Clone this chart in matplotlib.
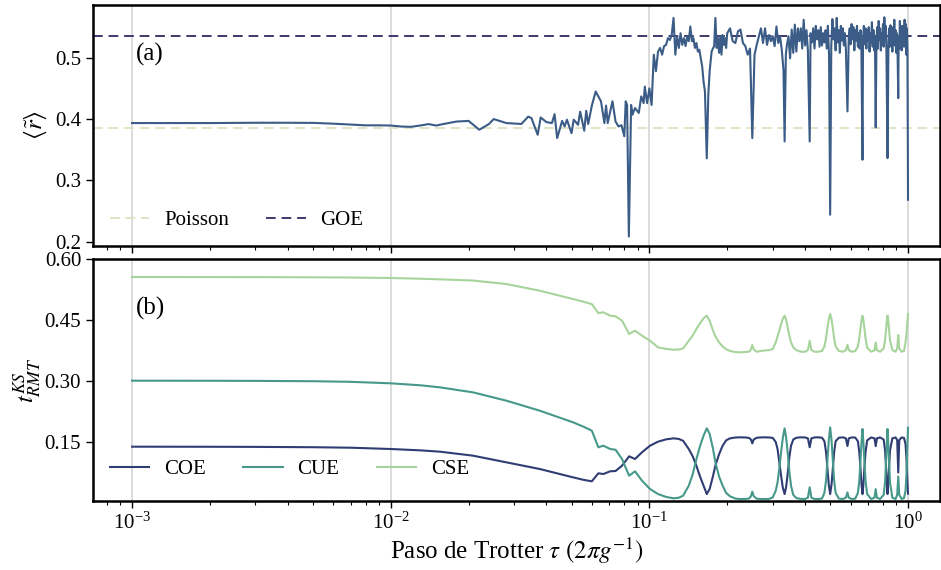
import numpy as np
import matplotlib.pyplot as plt

plt.rcParams['font.family'] = ['Liberation Serif', 'DejaVu Serif']
plt.rcParams['mathtext.fontset'] = 'stix'

# Panel (a): mean ratio of consecutive level spacings vs Trotter step
TAU_R = [
    0.001, 0.002, 0.003, 0.004, 0.005, 0.006, 0.007, 0.008, 0.009, 0.010,
    0.011, 0.012, 0.013, 0.014, 0.015, 0.016, 0.018, 0.020, 0.022, 0.024,
    0.025, 0.028, 0.032, 0.034, 0.035, 0.037, 0.038, 0.040, 0.042, 0.043,
    0.044, 0.046, 0.047, 0.048, 0.050, 0.051, 0.053, 0.054, 0.056, 0.057,
    0.058, 0.060, 0.062, 0.065, 0.067, 0.068, 0.069, 0.072, 0.074, 0.076,
    0.078, 0.080, 0.081, 0.082, 0.0833, 0.085, 0.086, 0.088, 0.091, 0.093,
    0.095, 0.096, 0.098, 0.100, 0.102, 0.104, 0.106, 0.108, 0.110, 0.112,
    0.114, 0.116, 0.118, 0.120, 0.122, 0.124, 0.126, 0.128, 0.130, 0.132,
    0.134, 0.136, 0.138, 0.140, 0.142, 0.144, 0.146, 0.148, 0.150, 0.152,
    0.154, 0.156, 0.158, 0.160, 0.162, 0.164, 0.1667, 0.169, 0.171, 0.174,
    0.176, 0.178, 0.180, 0.182, 0.184, 0.186, 0.188, 0.190, 0.192, 0.194,
    0.196, 0.198, 0.200, 0.205, 0.210, 0.215, 0.220, 0.225, 0.230, 0.235,
    0.240, 0.245, 0.250, 0.255, 0.260, 0.265, 0.270, 0.275, 0.280, 0.285,
    0.290, 0.295, 0.300, 0.305, 0.310, 0.315, 0.320, 0.325, 0.330, 0.3333,
    0.337, 0.340, 0.345, 0.350, 0.355, 0.360, 0.365, 0.370, 0.375, 0.380,
    0.385, 0.390, 0.395, 0.400, 0.405, 0.410, 0.4167, 0.420, 0.425, 0.430,
    0.435, 0.440, 0.445, 0.450, 0.455, 0.460, 0.465, 0.470, 0.475, 0.480,
    0.485, 0.490, 0.495, 0.500, 0.505, 0.510, 0.515, 0.520, 0.525, 0.530,
    0.535, 0.540, 0.545, 0.550, 0.555, 0.560, 0.565, 0.570, 0.575, 0.5833,
    0.590, 0.595, 0.600, 0.605, 0.610, 0.615, 0.620, 0.625, 0.630, 0.635,
    0.640, 0.645, 0.650, 0.655, 0.660, 0.6667, 0.670, 0.675, 0.680, 0.685,
    0.690, 0.695, 0.700, 0.705, 0.710, 0.715, 0.720, 0.725, 0.730, 0.735,
    0.740, 0.745, 0.750, 0.755, 0.760, 0.765, 0.770, 0.775, 0.780, 0.785,
    0.790, 0.795, 0.800, 0.805, 0.810, 0.815, 0.820, 0.825, 0.8333, 0.840,
    0.845, 0.850, 0.855, 0.860, 0.865, 0.870, 0.875, 0.880, 0.885, 0.890,
    0.895, 0.900, 0.905, 0.910, 0.9167, 0.920, 0.925, 0.930, 0.935, 0.940,
    0.945, 0.950, 0.955, 0.960, 0.965, 0.970, 0.975, 0.980, 0.985, 0.990,
    0.995, 1.000,
]
R_MEAN = [
    0.3935, 0.3935, 0.394, 0.394, 0.3938, 0.3925, 0.391, 0.3898, 0.3898, 0.3895,
    0.3878, 0.3874, 0.3895, 0.3918, 0.3895, 0.392, 0.396, 0.397, 0.3826, 0.392,
    0.400, 0.3935, 0.392, 0.404, 0.4016, 0.3744, 0.4026, 0.395, 0.3935, 0.408,
    0.369, 0.397, 0.388, 0.399, 0.377, 0.399, 0.3907, 0.412, 0.381, 0.4135,
    0.392, 0.423, 0.445, 0.429, 0.3935, 0.422, 0.3935, 0.429, 0.396, 0.388,
    0.390, 0.372, 0.429, 0.423, 0.2085, 0.423, 0.407, 0.418, 0.410, 0.437,
    0.426, 0.453, 0.426, 0.450, 0.423, 0.505, 0.478, 0.510, 0.516, 0.505,
    0.519, 0.521, 0.532, 0.529, 0.537, 0.565, 0.505, 0.535, 0.516, 0.540,
    0.521, 0.532, 0.519, 0.535, 0.527, 0.551, 0.527, 0.532, 0.516, 0.524,
    0.510, 0.513, 0.499, 0.486, 0.461, 0.445, 0.336, 0.440, 0.478, 0.510,
    0.515, 0.519, 0.565, 0.516, 0.532, 0.508, 0.535, 0.505, 0.537, 0.521,
    0.532, 0.516, 0.540, 0.548, 0.527, 0.524, 0.543, 0.546, 0.524, 0.519,
    0.505, 0.515, 0.369, 0.505, 0.521, 0.535, 0.548, 0.524, 0.548, 0.521,
    0.537, 0.527, 0.535, 0.519, 0.551, 0.524, 0.535, 0.513, 0.480, 0.3635,
    0.505, 0.520, 0.535, 0.499, 0.546, 0.508, 0.554, 0.510, 0.548, 0.527,
    0.548, 0.515, 0.562, 0.520, 0.545, 0.512, 0.3635, 0.540, 0.525, 0.548,
    0.515, 0.552, 0.530, 0.545, 0.518, 0.550, 0.520, 0.540, 0.525, 0.545,
    0.515, 0.552, 0.505, 0.244, 0.520, 0.563, 0.530, 0.548, 0.512, 0.565,
    0.525, 0.545, 0.508, 0.552, 0.528, 0.548, 0.520, 0.540, 0.515, 0.4125,
    0.535, 0.548, 0.522, 0.555, 0.530, 0.550, 0.512, 0.545, 0.528, 0.552,
    0.518, 0.540, 0.515, 0.545, 0.520, 0.3337, 0.530, 0.552, 0.522, 0.548,
    0.515, 0.545, 0.528, 0.550, 0.510, 0.540, 0.525, 0.558, 0.518, 0.545,
    0.512, 0.535, 0.3864, 0.528, 0.550, 0.515, 0.560, 0.530, 0.548, 0.512,
    0.540, 0.522, 0.555, 0.518, 0.566, 0.530, 0.552, 0.512, 0.3364, 0.525,
    0.548, 0.518, 0.553, 0.528, 0.545, 0.510, 0.550, 0.525, 0.562, 0.520,
    0.545, 0.508, 0.540, 0.522, 0.4342, 0.535, 0.515, 0.560, 0.528, 0.548,
    0.512, 0.552, 0.525, 0.545, 0.518, 0.562, 0.530, 0.555, 0.505, 0.548,
    0.512, 0.2684,
]
R_POISSON = 0.386
R_GOE = 0.536

# Panel (b): KS distance to each circular ensemble
TAU_KS = [
    0.001, 0.002, 0.003, 0.005, 0.007, 0.010, 0.013, 0.0155, 0.0208, 0.028,
    0.0377, 0.0507, 0.0556, 0.0599, 0.0635, 0.0664, 0.0705, 0.0740, 0.0784, 0.0835,
    0.0880, 0.0936, 0.1006, 0.1080, 0.1160, 0.1240, 0.1300, 0.1350, 0.1420, 0.1470,
    0.1520, 0.1570, 0.1620, 0.1667, 0.1710, 0.1760, 0.1800, 0.1860, 0.1920, 0.1980,
    0.2050, 0.2150, 0.2235, 0.2350, 0.2430, 0.2470, 0.2500, 0.2530, 0.2600, 0.2750,
    0.2900, 0.3000, 0.3080, 0.3130, 0.3180, 0.3230, 0.3280, 0.3333, 0.3380, 0.3430,
    0.3480, 0.3530, 0.3600, 0.3700, 0.3850, 0.4000, 0.4100, 0.4167, 0.4230, 0.4350,
    0.4500, 0.4650, 0.4750, 0.4820, 0.4880, 0.4940, 0.5000, 0.5060, 0.5120, 0.5180,
    0.5250, 0.5400, 0.5600, 0.5750, 0.5833, 0.5900, 0.6050, 0.6250, 0.6400, 0.6480,
    0.6550, 0.6610, 0.6667, 0.6720, 0.6780, 0.6850, 0.6950, 0.7200, 0.7420, 0.7500,
    0.7580, 0.7800, 0.8050, 0.8150, 0.8220, 0.8280, 0.8333, 0.8390, 0.8450, 0.8520,
    0.8700, 0.8950, 0.9080, 0.9167, 0.9250, 0.9450, 0.9650, 0.9780, 0.9860, 0.9930,
    1.0000,
]
KS_COE = [
    0.1385, 0.1383, 0.1380, 0.1372, 0.1360, 0.1328, 0.1295, 0.1262, 0.1164, 0.1000,
    0.0836, 0.0631, 0.0570, 0.0533, 0.0730, 0.0713, 0.0779, 0.0787, 0.0918, 0.1148,
    0.1082, 0.1246, 0.1410, 0.1508, 0.1565, 0.1590, 0.1575, 0.1530, 0.1328, 0.1150,
    0.0918, 0.0650, 0.0426, 0.0220, 0.0344, 0.0650, 0.0920, 0.1200, 0.1410, 0.1540,
    0.1590, 0.1610, 0.1615, 0.1612, 0.1600, 0.1560, 0.1467, 0.1560, 0.1605, 0.1615,
    0.1612, 0.1600, 0.1500, 0.1328, 0.1000, 0.0672, 0.0380, 0.0220, 0.0400, 0.0750,
    0.1150, 0.1410, 0.1560, 0.1605, 0.1615, 0.1612, 0.1590, 0.1370, 0.1590, 0.1612,
    0.1615, 0.1605, 0.1520, 0.1250, 0.0850, 0.0450, 0.0220, 0.0450, 0.0850, 0.1250,
    0.1520, 0.1605, 0.1615, 0.1590, 0.1400, 0.1590, 0.1612, 0.1610, 0.1520, 0.1250,
    0.0850, 0.0450, 0.0220, 0.0450, 0.0850, 0.1250, 0.1540, 0.1612, 0.1590, 0.1400,
    0.1590, 0.1612, 0.1560, 0.1300, 0.0900, 0.0500, 0.0220, 0.0500, 0.0900, 0.1300,
    0.1590, 0.1612, 0.1550, 0.0750, 0.1550, 0.1612, 0.1600, 0.1450, 0.1100, 0.0600,
    0.0230,
]
KS_CUE = [
    0.3008, 0.3006, 0.3003, 0.2995, 0.2980, 0.2943, 0.2895, 0.2844, 0.2721, 0.2516,
    0.2270, 0.1984, 0.1877, 0.1780, 0.1369, 0.1410, 0.1328, 0.1310, 0.1080, 0.0672,
    0.0779, 0.0550, 0.0344, 0.0220, 0.0150, 0.0115, 0.0130, 0.0180, 0.0426, 0.0700,
    0.1080, 0.1400, 0.1656, 0.1836, 0.1700, 0.1350, 0.1000, 0.0650, 0.0426, 0.0250,
    0.0164, 0.0110, 0.0098, 0.0100, 0.0110, 0.0170, 0.0279, 0.0170, 0.0105, 0.0098,
    0.0100, 0.0139, 0.0300, 0.0508, 0.0850, 0.1246, 0.1600, 0.1836, 0.1600, 0.1200,
    0.0750, 0.0420, 0.0200, 0.0120, 0.0100, 0.0100, 0.0130, 0.0385, 0.0130, 0.0100,
    0.0098, 0.0110, 0.0250, 0.0550, 0.1050, 0.1550, 0.1860, 0.1550, 0.1050, 0.0550,
    0.0250, 0.0110, 0.0098, 0.0130, 0.0260, 0.0130, 0.0100, 0.0105, 0.0250, 0.0550,
    0.1050, 0.1500, 0.1820, 0.1500, 0.1050, 0.0550, 0.0220, 0.0100, 0.0130, 0.0340,
    0.0130, 0.0100, 0.0200, 0.0500, 0.1000, 0.1450, 0.1820, 0.1450, 0.1000, 0.0500,
    0.0130, 0.0100, 0.0200, 0.0650, 0.0200, 0.0100, 0.0120, 0.0300, 0.0700, 0.1300,
    0.1850,
]
KS_CSE = [
    0.5557, 0.5556, 0.5555, 0.5550, 0.5545, 0.5533, 0.5515, 0.5500, 0.5470, 0.5385,
    0.5220, 0.5016, 0.4950, 0.4890, 0.4670, 0.4689, 0.4607, 0.4590, 0.4484, 0.4156,
    0.4238, 0.4115, 0.3992, 0.3828, 0.3790, 0.3770, 0.3775, 0.3800, 0.3990, 0.4115,
    0.4280, 0.4420, 0.4540, 0.4607, 0.4480, 0.4250, 0.4100, 0.3950, 0.3850, 0.3780,
    0.3740, 0.3710, 0.3705, 0.3715, 0.3720, 0.3780, 0.3885, 0.3780, 0.3720, 0.3746,
    0.3760, 0.3787, 0.3950, 0.4100, 0.4238, 0.4400, 0.4530, 0.4607, 0.4500, 0.4300,
    0.4100, 0.3950, 0.3828, 0.3760, 0.3720, 0.3720, 0.3760, 0.3990, 0.3760, 0.3720,
    0.3720, 0.3740, 0.3850, 0.4050, 0.4300, 0.4520, 0.4648, 0.4520, 0.4300, 0.4050,
    0.3850, 0.3740, 0.3720, 0.3760, 0.3890, 0.3760, 0.3720, 0.3735, 0.3850, 0.4050,
    0.4300, 0.4500, 0.4607, 0.4500, 0.4300, 0.4050, 0.3820, 0.3720, 0.3760, 0.3950,
    0.3760, 0.3720, 0.3800, 0.4000, 0.4250, 0.4480, 0.4607, 0.4480, 0.4250, 0.4000,
    0.3760, 0.3720, 0.3800, 0.4130, 0.3800, 0.3720, 0.3740, 0.3950, 0.4150, 0.4400,
    0.4648,
]

C_R = '#3a5c86'
C_POISSON = '#dfe4c3'
C_GOE = '#3b3a6c'
C_COE = '#2f3d73'
C_CUE = '#46998a'
C_CSE = '#a6d49b'
GRID = '#d9d9d9'


def style_axes(ax):
    ax.set_xscale('log')
    ax.set_xlim(7.06e-4, 1.33)
    for s in ax.spines.values():
        s.set_linewidth(1.8)
    ax.tick_params(which='major', direction='out', length=5, width=1.0, labelsize=15)
    ax.tick_params(which='minor', direction='out', length=3, width=0.8)
    ax.grid(True, which='major', axis='x', color=GRID, lw=1.3, zorder=0)
    ax.set_axisbelow(True)


fig = plt.figure(figsize=(9.41, 5.70), dpi=100)
ax1 = fig.add_axes([0.0988, 0.5684, 0.9002, 0.4228])
ax2 = fig.add_axes([0.0988, 0.1211, 0.9002, 0.4245], sharex=ax1)

leg_kw = dict(loc='lower left', frameon=False, fontsize=15, handlelength=1.9,
              handletextpad=0.7, columnspacing=1.8, borderaxespad=0.0)

# (a)
style_axes(ax1)
ax1.axhline(R_POISSON, color=C_POISSON, ls=(0, (5, 3)), lw=1.4, label='Poisson', zorder=1)
ax1.axhline(R_GOE, color=C_GOE, ls=(0, (5, 3)), lw=1.4, label='GOE', zorder=1)
ax1.plot(TAU_R, R_MEAN, color=C_R, lw=1.5, zorder=2)
ax1.set_ylim(0.193, 0.586)
ax1.set_yticks([0.2, 0.3, 0.4, 0.5])
ax1.set_yticklabels(['0.2', '0.3', '0.4', '0.5'])
ax1.tick_params(axis='x', labelbottom=False)
ax1.set_ylabel(r'$\langle\tilde{r}\rangle$', fontsize=18)
ax1.yaxis.set_label_coords(-0.052, 0.5)
ax1.text(0.051, 0.77, '(a)', transform=ax1.transAxes, fontsize=18)
ax1.legend(ncol=2, bbox_to_anchor=(0.010, 0.03), **leg_kw)

# (b)
style_axes(ax2)
ax2.plot(TAU_KS, KS_COE, color=C_COE, lw=1.5, label='COE')
ax2.plot(TAU_KS, KS_CUE, color=C_CUE, lw=1.5, label='CUE')
ax2.plot(TAU_KS, KS_CSE, color=C_CSE, lw=1.5, label='CSE')
ax2.set_ylim(0.005, 0.6)
ax2.set_yticks([0.15, 0.30, 0.45, 0.60])
ax2.set_yticklabels(['0.15', '0.30', '0.45', '0.60'])
ax2.set_ylabel(r'$t^{KS}_{RMT}$', fontsize=18)
ax2.yaxis.set_label_coords(-0.058, 0.5)
ax2.text(0.051, 0.77, '(b)', transform=ax2.transAxes, fontsize=18)
ax2.set_xlabel(r'Paso de Trotter $\tau$ $(2\pi g^{-1})$', fontsize=18, labelpad=1)
ax2.legend(ncol=3, bbox_to_anchor=(0.010, 0.055), **leg_kw)

fig.savefig('out.png', dpi=100)
